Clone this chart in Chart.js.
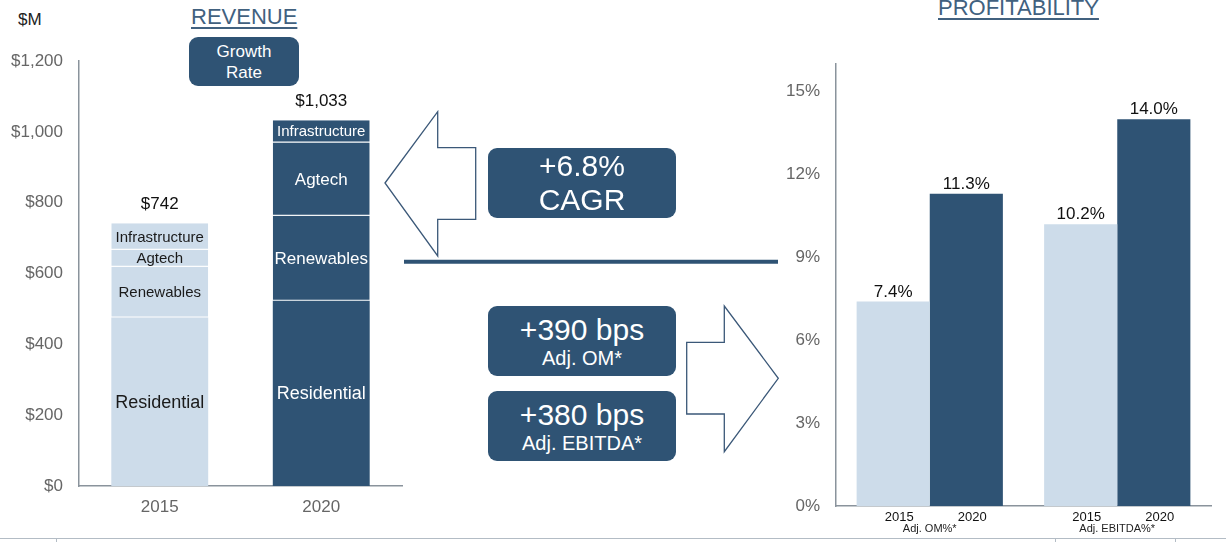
<!DOCTYPE html>
<html>
<head>
<meta charset="utf-8">
<script src="https://cdn.jsdelivr.net/npm/chart.js@4"></script>
<style>
    html, body { margin: 0; padding: 0; background: #fff; }
    body { width: 1226px; height: 542px; position: relative; overflow: hidden; font-family: "Liberation Sans", Arial, sans-serif; }
    .abs { position: absolute; }
    canvas { position: absolute; top: 0; }
    .title { color: #41617f; font-size: 22px; text-decoration: underline; text-decoration-thickness: 2px; text-underline-offset: 3px; white-space: nowrap; }
    .box { background: #2f5374; color: #fff; border-radius: 9px; text-align: center; display: flex; flex-direction: column; justify-content: center; }
    .big { font-size: 30px; line-height: 34px; }
    .small { font-size: 20px; line-height: 22px; }
</style>
</head>
<body>

<div class="abs" style="left:18px; top:10px; font-size:17px; color:#222;">$M</div>
<div class="abs title" style="left:191px; top:4px;">REVENUE</div>
<div class="abs box" style="left:189px; top:37px; width:110px; height:49px; font-size:17px; line-height:21px;">Growth<br>Rate</div>
<div class="abs title" style="left:938px; top:-5px;">PROFITABILITY</div>

<canvas id="revenueChart" width="410" height="542" style="left:0;"></canvas>
<canvas id="marginChart" width="446" height="542" style="left:780px;"></canvas>

<!-- arrows and divider between the two charts -->
<svg class="abs" style="left:0; top:0;" width="1226" height="542">
    <polygon points="385,183 437.7,111.7 437.7,147.7 475.7,147.7 475.7,219.3 437.7,219.3 437.7,256"
             fill="#fff" stroke="#3b5878" stroke-width="1.3"/>
    <line x1="404" y1="261.7" x2="778" y2="261.7" stroke="#2f5374" stroke-width="4"/>
    <polygon points="686.7,342.3 724.3,342.3 724.3,306 778.3,378.3 724.3,451.7 724.3,414 686.7,414"
             fill="#fff" stroke="#3b5878" stroke-width="1.3"/>
    <line x1="0" y1="538.5" x2="1226" y2="538.5" stroke="#b3bcc5" stroke-width="1"/>
    <line x1="56.5" y1="538" x2="56.5" y2="542" stroke="#b3bcc5" stroke-width="1"/>
    <line x1="1055.5" y1="538" x2="1055.5" y2="542" stroke="#b3bcc5" stroke-width="1"/>
    <line x1="1175.5" y1="538" x2="1175.5" y2="542" stroke="#b3bcc5" stroke-width="1"/>
</svg>

<div class="abs box" style="left:488px; top:148px; width:188px; height:70px;">
    <div class="big">+6.8%</div><div class="big">CAGR</div>
</div>
<div class="abs box" style="left:488px; top:306px; width:188px; height:70px;">
    <div class="big">+390 bps</div><div class="small">Adj. OM*</div>
</div>
<div class="abs box" style="left:488px; top:391px; width:188px; height:70px;">
    <div class="big">+380 bps</div><div class="small">Adj. EBITDA*</div>
</div>

<script>
// revenue by segment ($M)
const years = ['2015', '2020'];
const segments = ['Residential', 'Renewables', 'Agtech', 'Infrastructure'];
const residential = [476, 523];
const renewables = [143, 240];
const agtech = [48, 207];
const infrastructure = [75, 63];
const revenueTotals = [742, 1033];
const revenueTicks = [0, 200, 400, 600, 800, 1000, 1200];

// margins (%)
const metrics = ['Adj. OM%*', 'Adj. EBITDA%*'];
const margin2015 = [7.4, 10.2];
const margin2020 = [11.3, 14.0];
const marginTicks = [0, 3, 6, 9, 12, 15];

const FONT = '"Liberation Sans", Arial, sans-serif';
const LIGHT = '#cddcea';
const DARK = '#2f5374';
const AXIS = '#8a939c';
const TICK = '#666';

const barColors = [LIGHT, DARK];
const labelColors = ['#1a1a1a', '#ffffff'];

// segment names inside the stacks + totals on top
const revenueLabels = {
    id: 'revenueLabels',
    afterDatasetsDraw(chart) {
        const ctx = chart.ctx;
        const yScale = chart.scales.y;
        ctx.save();
        ctx.textAlign = 'center';
        ctx.textBaseline = 'middle';
        chart.data.datasets.forEach((ds, d) => {
            chart.getDatasetMeta(d).data.forEach((bar, i) => {
                const h = Math.abs(bar.base - bar.y);
                ctx.font = (h > 150 ? 18 : h > 60 ? 17 : 15) + 'px ' + FONT;
                ctx.fillStyle = labelColors[i];
                ctx.fillText(ds.label, bar.x, (bar.y + bar.base) / 2 + 1);
            });
        });
        const top = chart.getDatasetMeta(chart.data.datasets.length - 1).data;
        ctx.font = '17px ' + FONT;
        ctx.fillStyle = '#111';
        revenueTotals.forEach((t, i) => {
            ctx.fillText('$' + t.toLocaleString('en-US'), top[i].x, yScale.getPixelForValue(t) - 19);
        });
        ctx.restore();
    }
};

const segmentData = [residential, renewables, agtech, infrastructure];

new Chart(document.getElementById('revenueChart').getContext('2d'), {
    type: 'bar',
    data: {
        labels: years,
        datasets: segments.map((name, k) => ({
            label: name,
            data: segmentData[k],
            backgroundColor: barColors,
            borderColor: '#ffffff',
            borderWidth: k === 0 ? 0 : { top: 0, bottom: 1, left: 0, right: 0 },
            borderSkipped: false,
            barPercentage: 1,
            categoryPercentage: 0.6
        }))
    },
    options: {
        responsive: false,
        animation: false,
        layout: { padding: { left: 0, right: 8, top: 61, bottom: 0 } },
        plugins: { legend: { display: false }, tooltip: { enabled: false } },
        scales: {
            x: {
                stacked: true,
                grid: { display: false, drawTicks: false },
                border: { display: true, color: AXIS, width: 1.5 },
                ticks: { color: TICK, font: { family: FONT, size: 17 }, padding: 11 },
                afterFit(scale) { scale.height = 56; }
            },
            y: {
                stacked: true,
                min: 0,
                max: 1200,
                grid: { display: false, drawTicks: false },
                border: { display: true, color: AXIS, width: 1.5 },
                afterBuildTicks(scale) { scale.ticks = revenueTicks.map(v => ({ value: v })); },
                ticks: {
                    color: TICK,
                    font: { family: FONT, size: 17 },
                    padding: 16,
                    callback: v => '$' + v.toLocaleString('en-US')
                },
                afterFit(scale) { scale.width = 79; }
            }
        }
    },
    plugins: [revenueLabels]
});

// value labels above bars and year labels under them
const marginLabels = {
    id: 'marginLabels',
    afterDatasetsDraw(chart) {
        const ctx = chart.ctx;
        const bottom = chart.chartArea.bottom;
        ctx.save();
        ctx.textAlign = 'center';
        chart.data.datasets.forEach((ds, d) => {
            chart.getDatasetMeta(d).data.forEach((bar, i) => {
                ctx.fillStyle = '#111';
                ctx.textBaseline = 'bottom';
                ctx.font = '17px ' + FONT;
                ctx.fillText(ds.data[i].toFixed(1) + '%', bar.x, bar.y - 1);
                ctx.textBaseline = 'middle';
                ctx.font = '13px ' + FONT;
                ctx.fillText(ds.label, bar.x + 6, bottom + 11);
            });
        });
        ctx.restore();
    }
};

new Chart(document.getElementById('marginChart').getContext('2d'), {
    type: 'bar',
    data: {
        labels: metrics,
        datasets: [
            { label: years[0], data: margin2015, backgroundColor: LIGHT },
            { label: years[1], data: margin2020, backgroundColor: DARK }
        ]
    },
    options: {
        responsive: false,
        animation: false,
        datasets: { bar: { barPercentage: 1, categoryPercentage: 0.78 } },
        layout: { padding: { left: 0, right: 15, top: 64, bottom: 0 } },
        plugins: { legend: { display: false }, tooltip: { enabled: false } },
        scales: {
            x: {
                grid: { display: false, drawTicks: false },
                border: { display: true, color: AXIS, width: 1.5 },
                ticks: { color: '#222', font: { family: FONT, size: 11 }, padding: 16 },
                afterFit(scale) { scale.height = 36; }
            },
            y: {
                min: 0,
                max: 16,
                grid: { display: false, drawTicks: false },
                border: { display: true, color: AXIS, width: 1.5 },
                afterBuildTicks(scale) { scale.ticks = marginTicks.map(v => ({ value: v })); },
                ticks: {
                    color: TICK,
                    font: { family: FONT, size: 17 },
                    padding: 16,
                    callback: v => v + '%'
                },
                afterFit(scale) { scale.width = 56; }
            }
        }
    },
    plugins: [marginLabels]
});
</script>
</body>
</html>
